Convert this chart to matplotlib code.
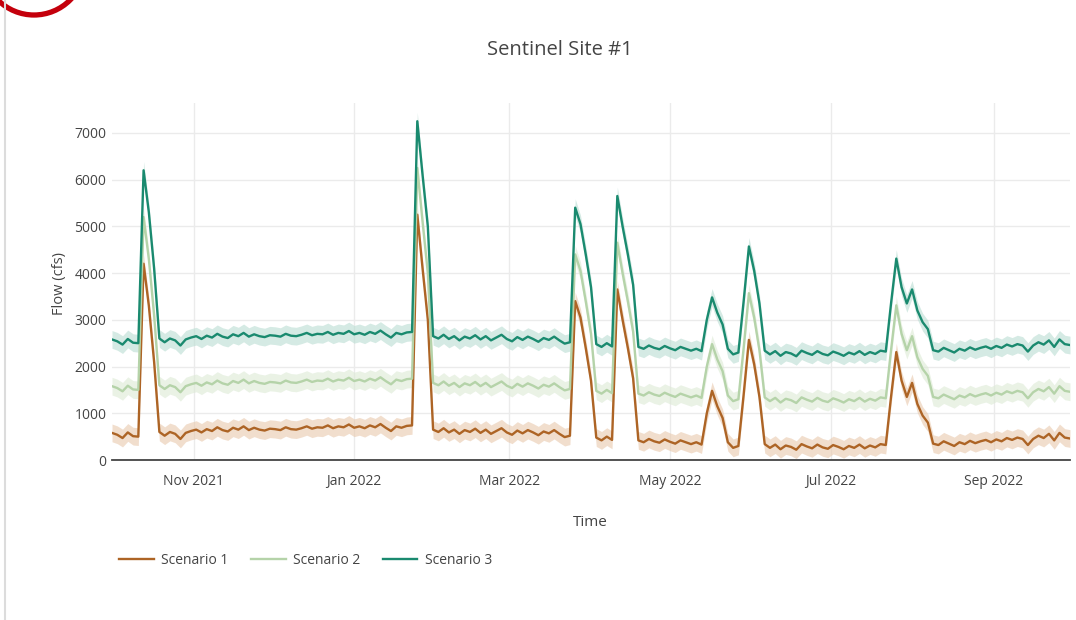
import matplotlib
matplotlib.use("Agg")
import matplotlib.pyplot as plt
import matplotlib.dates as mdates
import matplotlib.patches as patches
import numpy as np

plt.rcParams['font.family'] = ['Open Sans', 'DejaVu Sans']

# sampled every 2 days, water year Oct 2021 - Sep 2022
dates = np.arange(np.datetime64('2021-10-01'), np.datetime64('2022-10-01'),
                  np.timedelta64(2, 'D'))

scenario_1 = [
    580, 540, 470, 590, 510, 500, 4200, 3300, 2100, 600,
    520, 600, 560, 450, 580, 620, 650, 590, 660, 620,
    700, 640, 610, 690, 650, 720, 640, 690, 650, 630,
    670, 660, 640, 700, 660, 650, 680, 720, 670, 700,
    690, 740, 680, 720, 700, 760, 690, 720, 680, 740,
    700, 770, 690, 620, 720, 690, 730, 740, 5250, 4100,
    3000, 650, 600, 680, 590, 650, 560, 640, 600, 670,
    580, 650, 560, 620, 680, 590, 540, 630, 570, 640,
    590, 530, 610, 570, 640, 560, 490, 520, 3400, 3050,
    2400, 1700, 480, 420, 500, 430, 3650, 3000, 2400, 1750,
    420, 380, 450, 400, 370, 440, 390, 350, 420, 380,
    340, 380, 330, 1000, 1480, 1150, 900, 380, 260, 300,
    1400, 2570, 2050, 1350, 340, 260, 330, 230, 310, 280,
    220, 340, 290, 250, 330, 270, 240, 320, 280, 230,
    300, 260, 330, 250, 310, 270, 340, 320, 1350, 2310,
    1700, 1350, 1650, 1200, 950, 800, 350, 320, 400, 350,
    300, 380, 340, 410, 360, 400, 430, 380, 440, 400,
    470, 430, 480, 450, 320, 450, 520, 470, 560, 420,
    580, 480, 460,
]

scenario_2 = [
    1580, 1540, 1470, 1590, 1510, 1500, 5200, 4300, 3100, 1600,
    1520, 1600, 1560, 1450, 1580, 1620, 1650, 1590, 1660, 1620,
    1700, 1640, 1610, 1690, 1650, 1720, 1640, 1690, 1650, 1630,
    1670, 1660, 1640, 1700, 1660, 1650, 1680, 1720, 1670, 1700,
    1690, 1740, 1680, 1720, 1700, 1760, 1690, 1720, 1680, 1740,
    1700, 1770, 1690, 1620, 1720, 1690, 1730, 1740, 6250, 5100,
    4000, 1650, 1600, 1680, 1590, 1650, 1560, 1640, 1600, 1670,
    1580, 1650, 1560, 1620, 1680, 1590, 1540, 1630, 1570, 1640,
    1590, 1530, 1610, 1570, 1640, 1560, 1490, 1520, 4400, 4050,
    3400, 2700, 1480, 1420, 1500, 1430, 4650, 4000, 3400, 2750,
    1420, 1380, 1450, 1400, 1370, 1440, 1390, 1350, 1420, 1380,
    1340, 1380, 1330, 2000, 2480, 2150, 1900, 1380, 1260, 1300,
    2400, 3570, 3050, 2350, 1340, 1260, 1330, 1230, 1310, 1280,
    1220, 1340, 1290, 1250, 1330, 1270, 1240, 1320, 1280, 1230,
    1300, 1260, 1330, 1250, 1310, 1270, 1340, 1320, 2350, 3310,
    2700, 2350, 2650, 2200, 1950, 1800, 1350, 1320, 1400, 1350,
    1300, 1380, 1340, 1410, 1360, 1400, 1430, 1380, 1440, 1400,
    1470, 1430, 1480, 1450, 1320, 1450, 1520, 1470, 1560, 1420,
    1580, 1480, 1460,
]

scenario_3 = [
    2580, 2540, 2470, 2590, 2510, 2500, 6200, 5300, 4100, 2600,
    2520, 2600, 2560, 2450, 2580, 2620, 2650, 2590, 2660, 2620,
    2700, 2640, 2610, 2690, 2650, 2720, 2640, 2690, 2650, 2630,
    2670, 2660, 2640, 2700, 2660, 2650, 2680, 2720, 2670, 2700,
    2690, 2740, 2680, 2720, 2700, 2760, 2690, 2720, 2680, 2740,
    2700, 2770, 2690, 2620, 2720, 2690, 2730, 2740, 7250, 6100,
    5000, 2650, 2600, 2680, 2590, 2650, 2560, 2640, 2600, 2670,
    2580, 2650, 2560, 2620, 2680, 2590, 2540, 2630, 2570, 2640,
    2590, 2530, 2610, 2570, 2640, 2560, 2490, 2520, 5400, 5050,
    4400, 3700, 2480, 2420, 2500, 2430, 5650, 5000, 4400, 3750,
    2420, 2380, 2450, 2400, 2370, 2440, 2390, 2350, 2420, 2380,
    2340, 2380, 2330, 3000, 3480, 3150, 2900, 2380, 2260, 2300,
    3400, 4570, 4050, 3350, 2340, 2260, 2330, 2230, 2310, 2280,
    2220, 2340, 2290, 2250, 2330, 2270, 2240, 2320, 2280, 2230,
    2300, 2260, 2330, 2250, 2310, 2270, 2340, 2320, 3350, 4310,
    3700, 3350, 3650, 3200, 2950, 2800, 2350, 2320, 2400, 2350,
    2300, 2380, 2340, 2410, 2360, 2400, 2430, 2380, 2440, 2400,
    2470, 2430, 2480, 2450, 2320, 2450, 2520, 2470, 2560, 2420,
    2580, 2480, 2460,
]

series_names = ['Scenario 1', 'Scenario 2', 'Scenario 3']
series_colors = ['#ad6425', '#b5d3a9', '#1a8a6f']
band_colors = ['#e9c9ad', '#dcead5', '#b9ddd2']
band_halfwidth = 190  # uncertainty band (cfs)
y_ticks = [0, 1000, 2000, 3000, 4000, 5000, 6000, 7000]

W, H = 1076, 620
fig = plt.figure(figsize=(W / 100, H / 100), dpi=100)
ax = fig.add_axes([112 / W, 160 / H, 958 / W, 357 / H])

for vals, col in zip([scenario_1, scenario_2, scenario_3], band_colors):
    v = np.array(vals, dtype=float)
    ax.fill_between(dates, v - band_halfwidth, v + band_halfwidth,
                    color=col, alpha=0.6, linewidth=0)
for vals, name, col in zip([scenario_1, scenario_2, scenario_3], series_names, series_colors):
    ax.plot(dates, vals, color=col, linewidth=1.7, label=name)

ax.set_xlim(np.datetime64('2021-10-01'), np.datetime64('2022-09-30'))
ax.set_ylim(0, 7640)
ax.set_yticks(y_ticks)
ax.xaxis.set_major_locator(mdates.MonthLocator(bymonth=[11, 1, 3, 5, 7, 9]))
ax.xaxis.set_major_formatter(mdates.DateFormatter('%b %Y'))

# plotly-like styling
for s in ['top', 'right', 'left']:
    ax.spines[s].set_visible(False)
ax.spines['bottom'].set_color('#444444')
ax.spines['bottom'].set_linewidth(1.3)
ax.grid(True, color='#ebebeb', linewidth=1)
ax.set_axisbelow(True)
ax.tick_params(axis='x', length=0, pad=10, labelsize=10, labelcolor='#444444')
ax.tick_params(axis='y', length=0, pad=4, labelsize=10, labelcolor='#444444')

fig.text(560 / W, 1 - 50 / H, 'Sentinel Site #1', ha='center', va='center',
         fontsize=14.5, color='#444444')
fig.text(590 / W, 1 - 523 / H, 'Time', ha='center', va='center',
         fontsize=11, color='#444444')
fig.text(60 / W, 1 - 283 / H, 'Flow (cfs)', ha='center', va='center',
         rotation=90, fontsize=10.5, color='#444444')

fig.legend(loc='center left', bbox_to_anchor=(112 / W, 1 - 560 / H), ncol=3,
           frameon=False, fontsize=10, labelcolor='#444444', borderpad=0,
           handlelength=2.5, handletextpad=0.55, columnspacing=1.6)

# page decorations: left border and red ring in the corner
fig.add_artist(plt.Line2D([5 / W, 5 / W], [0, 1], color='#dcdcdc', linewidth=1.5))
fig.add_artist(patches.Ellipse((34 / W, 1 + 36 / H), 2 * 51 / W, 2 * 51 / H,
                               fill=False, edgecolor='#c4000c', linewidth=3.8))

fig.savefig('out.png', dpi=100)
